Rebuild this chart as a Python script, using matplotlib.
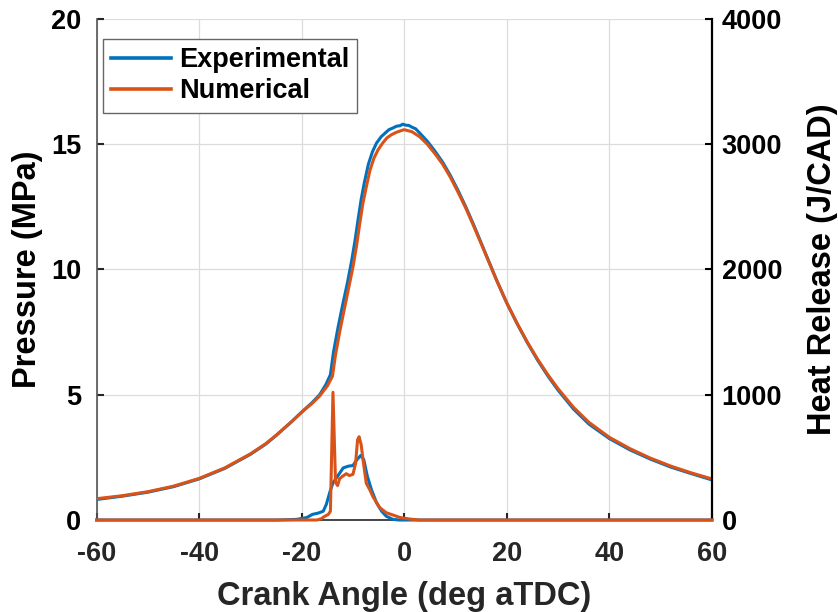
import matplotlib
matplotlib.use("Agg")
import matplotlib.pyplot as plt
from matplotlib import font_manager as fm
from matplotlib.ticker import FixedLocator

fm.fontManager.ttflist = [f for f in fm.fontManager.ttflist
                          if 'narrow' not in f.name.lower() and 'narrow' not in f.fname.lower()]
plt.rcParams['font.family'] = ['Liberation Sans', 'DejaVu Sans']
plt.rcParams['font.weight'] = 'bold'

# ---- data ----
x_lbl = "Crank Angle (deg aTDC)"
yl_lbl = "Pressure (MPa)"
yr_lbl = "Heat Release (J/CAD)"
series_names = ["Experimental", "Numerical"]

exp_p_x = [-60, -55, -50, -45, -40, -35, -30, -27, -25, -22, -20, -18, -16.5, -15.3, -14.4,
           -13.8, -12.9, -12.0, -11.1, -10.3, -9.6, -9.0, -8.4, -7.8, -7.0, -6.2, -5.4,
           -4.5, -3.7, -3.0, -2.2, -1.5, -0.8, -0.3, 0.3, 0.9, 1.5, 2.2, 3, 4.5, 6, 7.5,
           9, 10.5, 12, 13.5, 15, 16.5, 18, 20, 22, 24, 26, 28, 30, 33, 36, 40, 44, 48,
           52, 56, 60]
exp_p = [0.82, 0.95, 1.11, 1.33, 1.64, 2.06, 2.62, 3.03, 3.37, 3.92, 4.31, 4.68, 5.0, 5.4, 5.8,
         6.7, 7.7, 8.6, 9.45, 10.3, 11.15, 12.0, 12.8, 13.45, 14.2, 14.7, 15.05,
         15.3, 15.45, 15.58, 15.65, 15.72, 15.74, 15.8, 15.76, 15.75, 15.68, 15.62, 15.45,
         15.12, 14.72, 14.28, 13.75, 13.15, 12.5, 11.8, 11.06, 10.32, 9.58, 8.66, 7.84,
         7.08, 6.38, 5.75, 5.18, 4.43, 3.83, 3.25, 2.8, 2.43, 2.11, 1.85, 1.6]

num_p_x = [-60, -55, -50, -45, -40, -35, -30, -27, -25, -22, -20, -18, -16.5, -15.0, -14.0,
           -13.4, -12.5, -11.6, -10.8, -10.0, -9.3, -8.7, -8.1, -7.5, -6.7, -5.9, -5.1,
           -4.2, -3.4, -2.5, -1.5, -0.5, 0, 1.5, 3, 4.5, 6, 7.5, 9, 10.5, 12, 13.5, 15,
           16.5, 18, 20, 22, 24, 26, 28, 30, 33, 36, 40, 44, 48, 52, 56, 60]
num_p = [0.85, 0.97, 1.13, 1.35, 1.66, 2.08, 2.64, 3.05, 3.38, 3.92, 4.3, 4.65, 4.95, 5.35, 5.74,
         6.6, 7.6, 8.5, 9.3, 10.1, 10.95, 11.8, 12.6, 13.2, 13.95, 14.45, 14.78,
         15.05, 15.25, 15.38, 15.48, 15.55, 15.58, 15.5, 15.3, 15.0, 14.62, 14.2, 13.68,
         13.08, 12.45, 11.75, 11.03, 10.3, 9.57, 8.66, 7.85, 7.1, 6.42, 5.8, 5.24, 4.5,
         3.9, 3.3, 2.85, 2.47, 2.15, 1.88, 1.64]

exp_hr_x = [-60, -25, -21, -19, -17.9, -16.8, -15.8, -15.2, -14.5, -13.9, -13.0, -11.9,
            -10.9, -10.0, -9.2, -8.5, -7.9, -7.2, -6.4, -5.4, -4.4, -3.5, -2.2, -1, 60]
exp_hr = [0, 0, 5, 20, 45, 55, 70, 124, 224, 297, 350, 416, 430, 435, 483, 515, 483,
          350, 243, 137, 70, 30, 5, 0, 0]

num_hr_x = [-60, -17, -16.2, -15.5, -14.8, -14.4, -13.9, -13.4, -13.0, -12.6, -12.0,
            -11.3, -10.7, -10.0, -9.5, -9.1, -8.8, -8.4, -8.0, -7.4, -6.7, -6.1, -4.8,
            -3.5, -2.2, -0.9, 1, 3, 60]
num_hr = [0, 0, 10, 30, 45, 70, 1020, 300, 275, 330, 350, 370, 355, 365, 450, 640, 665,
          600, 470, 293, 240, 186, 100, 58, 40, 21, 8, 0, 0]

x_ticks = [-60, -40, -20, 0, 20, 40, 60]
yl_ticks = [0, 5, 10, 15, 20]
yr_ticks = [0, 1000, 2000, 3000, 4000]

blue = '#0072BD'
orange = '#D95319'
fs = 19.5
fl = 23.5

fig = plt.figure(figsize=(8.38, 6.12), dpi=100)
ax = fig.add_axes([0.1152, 0.1503, 0.7344, 0.8187])
ax2 = ax.twinx()

ax.plot(exp_p_x, exp_p, color=blue, lw=2.2, zorder=3)
ax.plot(num_p_x, num_p, color=orange, lw=2.2, zorder=4)
ax2.plot(exp_hr_x, exp_hr, color=blue, lw=2.2, clip_on=False, zorder=3)
ax2.plot(num_hr_x, num_hr, color=orange, lw=2.2, clip_on=False, zorder=4)

ax.set_xlim(-60, 60)
ax.set_ylim(0, 20)
ax2.set_ylim(0, 4000)
ax.xaxis.set_major_locator(FixedLocator(x_ticks))
ax.yaxis.set_major_locator(FixedLocator(yl_ticks))
ax2.yaxis.set_major_locator(FixedLocator(yr_ticks))
ax.set_xticklabels([str(t) for t in x_ticks])
ax.set_yticklabels([str(t) for t in yl_ticks])
ax2.set_yticklabels([str(t) for t in yr_ticks])

ax.grid(True, color='#dcdcdc', lw=0.9)
ax.set_axisbelow(True)

for a in (ax, ax2):
    a.spines['top'].set_visible(False)
ax.spines['right'].set_visible(False)
ax2.spines['left'].set_visible(False)
ax2.spines['bottom'].set_visible(False)
ax.spines['left'].set_color('#555555')
ax.spines['bottom'].set_color('#262626')
ax2.spines['right'].set_color('black')
ax.spines['left'].set_linewidth(1.2)
ax.spines['bottom'].set_linewidth(1.2)
ax2.spines['right'].set_linewidth(1.6)

ax.tick_params(axis='x', direction='in', length=5, width=1.5, labelsize=fs,
               colors='#262626', pad=15)
ax.tick_params(axis='y', direction='in', length=5, width=1.5, labelsize=fs,
               colors='#262626', labelcolor='black', pad=11)
ax2.tick_params(axis='y', direction='in', length=5, width=1.5, labelsize=fs,
                colors='black', pad=7)
for lab in ax.get_xticklabels() + ax.get_yticklabels() + ax2.get_yticklabels():
    lab.set_fontweight('bold')

ax.set_xlabel(x_lbl, fontsize=fl, fontweight='bold', color='#262626', labelpad=10)
ax.set_ylabel(yl_lbl, fontsize=fl, fontweight='bold', color='black', labelpad=5.5)
ax2.set_ylabel(yr_lbl, fontsize=fl, fontweight='bold', color='black', labelpad=18)

h1, = ax.plot([], [], color=blue, lw=2.6)
h2, = ax.plot([], [], color=orange, lw=2.6)
leg = ax2.legend([h1, h2], series_names, loc='upper left', bbox_to_anchor=(0.002, 0.971),
                 prop={'weight': 'bold', 'size': fs}, frameon=True,
                 fancybox=False, framealpha=1, edgecolor='#666666', handlelength=2.2,
                 handletextpad=0.3, borderpad=0.3, labelspacing=0.2, borderaxespad=0.2)
leg.get_frame().set_linewidth(1.0)

fig.savefig('out.png', dpi=100)
